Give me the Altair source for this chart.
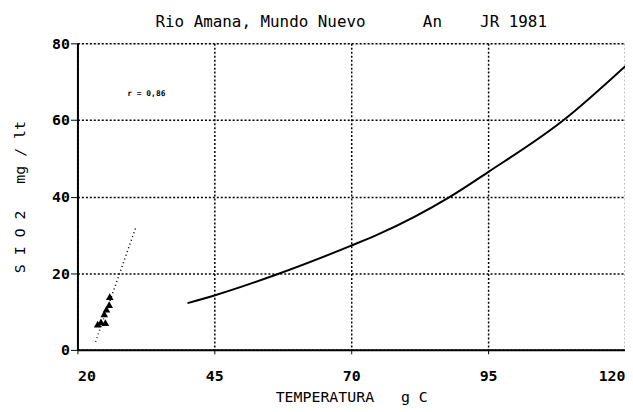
import altair as alt
import pandas as pd

# measured points (triangles)
pt_x = [23.7, 24.3, 25.1, 24.9, 25.3, 25.8, 25.9]
pt_y = [6.7, 7.3, 7.1, 9.4, 10.6, 11.8, 13.9]

# dotted regression line
reg_x = [23.3, 30.7]
reg_y = [2.1, 32.1]

# solid curve
cur_x = [40.1, 45, 57, 70, 74.7, 88.1, 95, 108.8, 120]
cur_y = [12.2, 14.2, 20.0, 27.2, 30.0, 40.0, 46.4, 60.0, 74.0]

x_ticks = [20, 45, 70, 95, 120]
y_ticks = [0, 20, 40, 60, 80]

NB = "\u00a0"
title_text = "Rio Amana, Mundo Nuevo" + NB * 6 + "An" + NB * 4 + "JR 1981"
x_title = "TEMPERATURA" + NB * 3 + "g C"
y_title = "S I O 2" + NB * 3 + "mg / lt"
ann_text = "r = 0,86"
ann_x = [29.1]
ann_y = [66.8]

FONT = "DejaVu Sans Mono"

pts = pd.DataFrame({"x": pt_x, "y": pt_y})
reg = pd.DataFrame({"x": reg_x, "y": reg_y})
cur = pd.DataFrame({"x": cur_x, "y": cur_y})
ann = pd.DataFrame({"x": ann_x, "y": ann_y, "t": [ann_text]})

xs = alt.Scale(domain=[20, 120], nice=False, zero=False)
ys = alt.Scale(domain=[0, 80], nice=False)

xax = alt.Axis(values=x_ticks, title=x_title, grid=True, labelFlush=True,
               gridDash=[2, 2], gridColor="black", gridWidth=1.5, gridOpacity=1,
               domainColor="black", domainWidth=2, tickColor="black", tickSize=4,
               labelFont=FONT, labelFontSize=15, labelFontWeight="bold", labelColor="black",
               labelPadding=15, titleFont=FONT, titleFontSize=15, titleFontWeight="normal",
               titleColor="black", titlePadding=6)
yax = alt.Axis(values=y_ticks, title=y_title, grid=True,
               gridDash=[2, 2], gridColor="black", gridWidth=1.5, gridOpacity=1,
               domainColor="black", domainWidth=2, tickColor="black", tickSize=7,
               labelFont=FONT, labelFontSize=15, labelFontWeight="bold", labelColor="black",
               labelPadding=1, titleFont=FONT, titleFontSize=15, titleFontWeight="normal",
               titleColor="black", titlePadding=24)

base_x = alt.X("x:Q", scale=xs, axis=xax)
base_y = alt.Y("y:Q", scale=ys, axis=yax)

curve = alt.Chart(cur).mark_line(color="black", strokeWidth=2, interpolate="monotone").encode(
    x=base_x, y=base_y)
regl = alt.Chart(reg).mark_line(color="black", strokeWidth=1.5, strokeDash=[1, 3]).encode(
    x="x:Q", y="y:Q")
points = alt.Chart(pts).mark_point(shape="triangle-up", filled=True, color="black",
                                   size=60, opacity=1).encode(x="x:Q", y="y:Q")
text = alt.Chart(ann).mark_text(font=FONT, fontSize=8, fontWeight="bold", align="left",
                                baseline="middle", color="black").encode(
    x="x:Q", y="y:Q", text="t:N")

chart = alt.layer(curve, regl, points, text).properties(
    width=552, height=309,
    title=alt.TitleParams(title_text, font=FONT, fontSize=16, fontWeight="normal",
                          color="black", offset=6, anchor="middle"),
    autosize=alt.AutoSizeParams(type="none"),
    padding={"left": 70, "top": 34, "right": 0, "bottom": 61},
).configure_view(stroke=None).configure(background="white")

chart.save("out.html", embed_options={"renderer": "svg", "actions": False})
